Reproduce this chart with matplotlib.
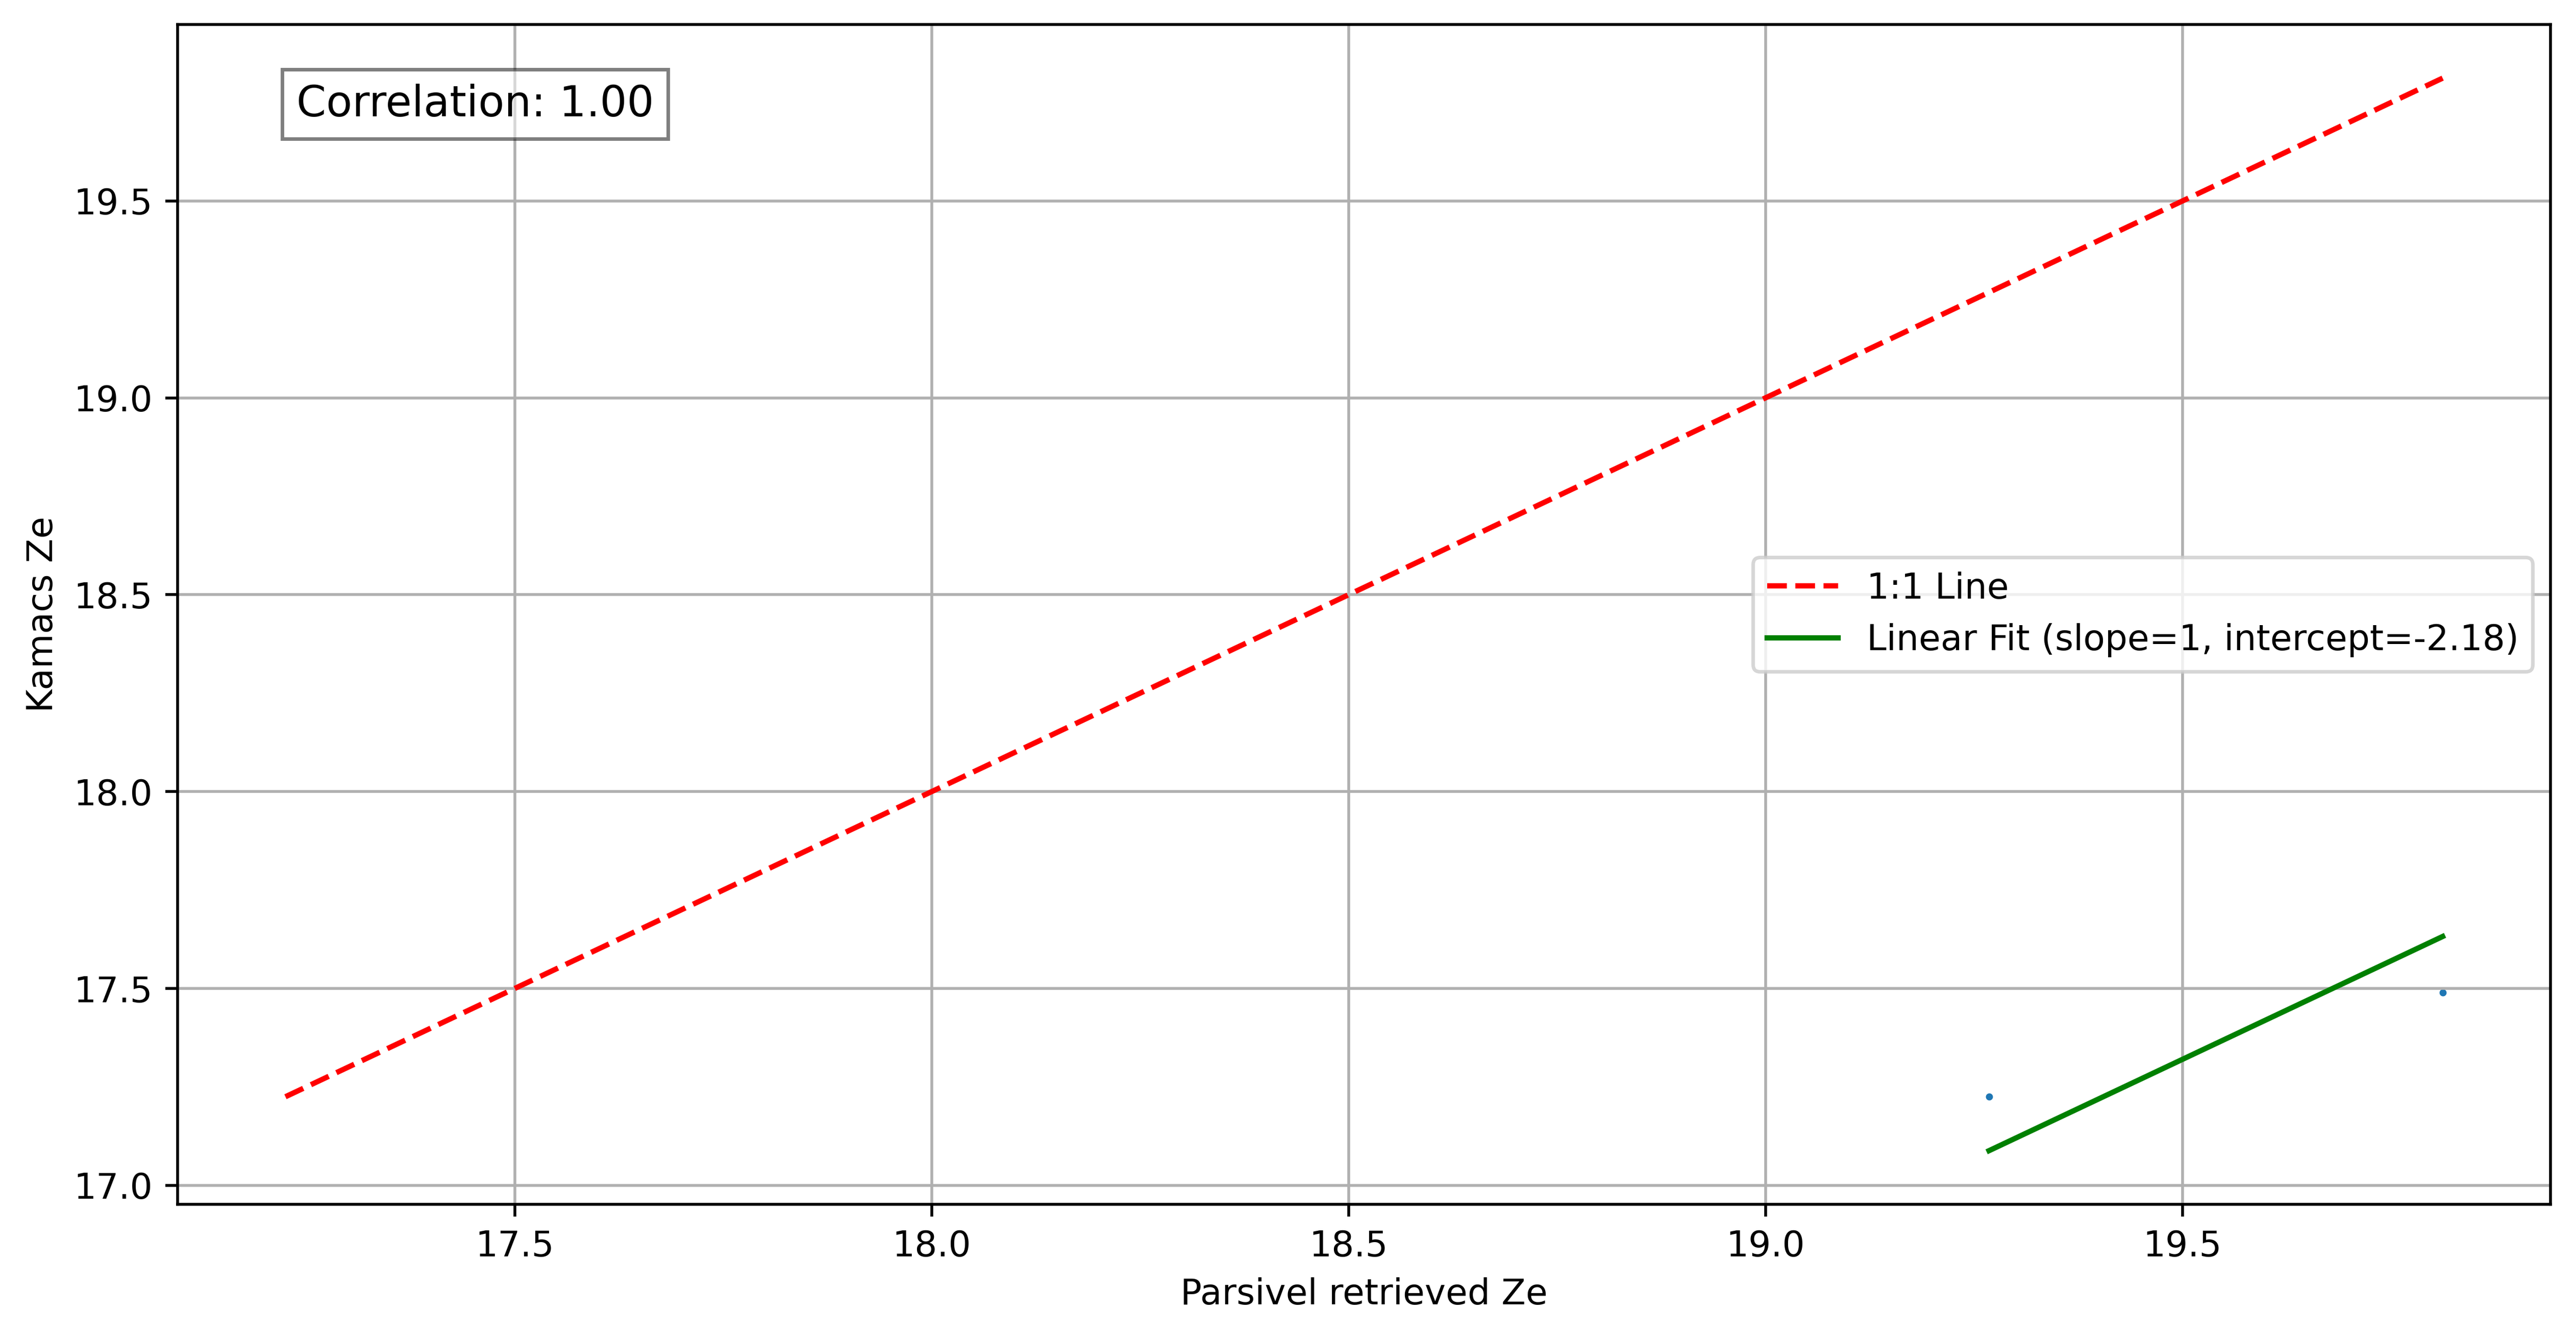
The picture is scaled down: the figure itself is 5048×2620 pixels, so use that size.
import numpy as np
import matplotlib
matplotlib.use('Agg')
import matplotlib.pyplot as plt

# Parsivel vs Kamacs reflectivity
parsivel_ze = [19.268, 19.812]
kamacs_ze = [17.225, 17.490]
fit_slope = 1
fit_intercept = -2.18
correlation = 1.00


def main():
    x = np.array(parsivel_ze)
    y = np.array(kamacs_ze)

    fig = plt.figure(figsize=(5048 / 500, 2620 / 500), dpi=500)
    ax = fig.add_axes([0.06894, 0.09924, 0.99010 - 0.06894, 0.98168 - 0.09924])

    ax.scatter(x, y, s=1)

    # 1:1 reference line over the range of both series
    lo = min(x.min(), y.min())
    hi = max(x.max(), y.max())
    ax.plot([lo, hi], [lo, hi], 'r--', label='1:1 Line')

    ax.plot(x, fit_slope * x + fit_intercept, 'g-',
            label='Linear Fit (slope={}, intercept={:.2f})'.format(fit_slope, fit_intercept))

    ax.text(0.05, 0.95, 'Correlation: {:.2f}'.format(correlation), transform=ax.transAxes,
            fontsize=12, verticalalignment='top',
            bbox=dict(facecolor='white', alpha=0.5))

    ax.set_xlabel('Parsivel retrieved Ze')
    ax.set_ylabel('Kamacs Ze')
    ax.legend(loc='center right')
    ax.grid(True)

    fig.savefig('out.png', dpi=500)


if __name__ == "__main__":
    main()
